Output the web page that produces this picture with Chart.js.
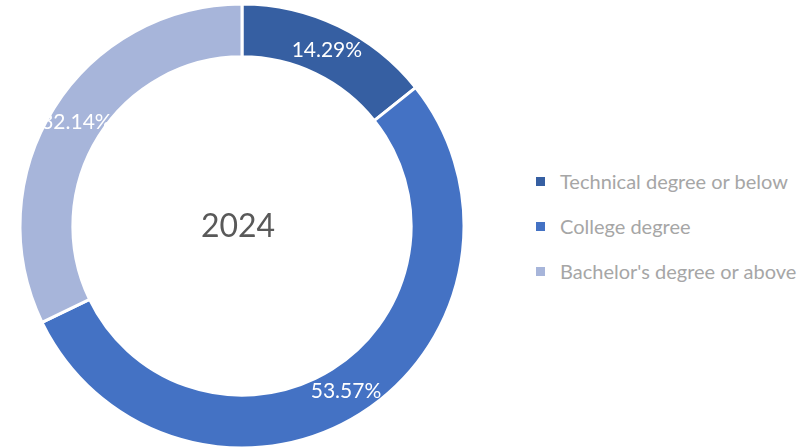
<!DOCTYPE html>
<html>
<head>
<meta charset="utf-8">
<script src="https://cdn.jsdelivr.net/npm/chart.js@4.4.1/dist/chart.umd.min.js"></script>
<style>
  html, body { margin: 0; padding: 0; background: #ffffff; }
  #wrap { position: relative; width: 806px; height: 448px; overflow: hidden; }
  #chartBox { position: absolute; left: 0; top: 0; width: 484px; height: 448px; }
  #legend { position: absolute; left: 536px; top: 0; }
  .item { position: absolute; left: 0; white-space: nowrap; font-family: Lato, sans-serif; font-size: 20px; color: #a6a6a6; line-height: 22px; }
  .item .box { position: absolute; left: 0; top: 7px; width: 9px; height: 9px; }
  .item span.txt { position: absolute; left: 24px; top: 0; }
</style>
</head>
<body>
<div id="wrap">
  <div id="chartBox"><canvas id="donut" width="484" height="448"></canvas></div>
  <div id="legend"></div>
</div>
<script>
// Education level shares, 2024 (percent)
const categories = ['Technical degree or below', 'College degree', "Bachelor's degree or above"];
const shares = [14.29, 53.57, 32.14];
const centerLabel = '2024';
const sliceColors = ['#365fa2', '#4472c4', '#a7b5da'];

// --- Legend (right side) ---
const legendEl = document.getElementById('legend');
categories.forEach(function (name, i) {
    const item = document.createElement('div');
    item.className = 'item';
    item.style.top = (170 + i * 45) + 'px';
    item.innerHTML = '<div class="box" style="background:' + sliceColors[i] + '"></div><span class="txt">' + name + '</span>';
    legendEl.appendChild(item);
});

// Labels on each slice + year in the middle
const donutText = {
    id: 'donutText',
    afterDatasetsDraw(chart) {
        const ctx = chart.ctx;
        const meta = chart.getDatasetMeta(0);
        ctx.save();
        ctx.textAlign = 'center';
        ctx.textBaseline = 'middle';
        ctx.fillStyle = '#ffffff';
        ctx.font = '21px Lato, sans-serif';
        meta.data.forEach(function (arc, i) {
            const p = arc.tooltipPosition();
            ctx.fillText(shares[i].toFixed(2) + '%', p.x, p.y);
        });
        const a = meta.data[0];
        ctx.fillStyle = '#595959';
        ctx.font = '32px Lato, sans-serif';
        ctx.fillText(centerLabel, a.x - 4, a.y + 1);
        ctx.restore();
    }
};

new Chart(document.getElementById('donut').getContext('2d'), {
    type: 'doughnut',
    data: {
        labels: categories,
        datasets: [{
            data: shares,
            backgroundColor: sliceColors,
            borderColor: '#ffffff',
            borderWidth: 3
        }]
    },
    options: {
        responsive: false,
        animation: false,
        radius: 222,
        cutout: 168,
        layout: { padding: { top: 4, bottom: 0 } },
        plugins: {
            legend: { display: false },
            tooltip: { enabled: false }
        }
    },
    plugins: [donutText]
});
</script>
</body>
</html>
